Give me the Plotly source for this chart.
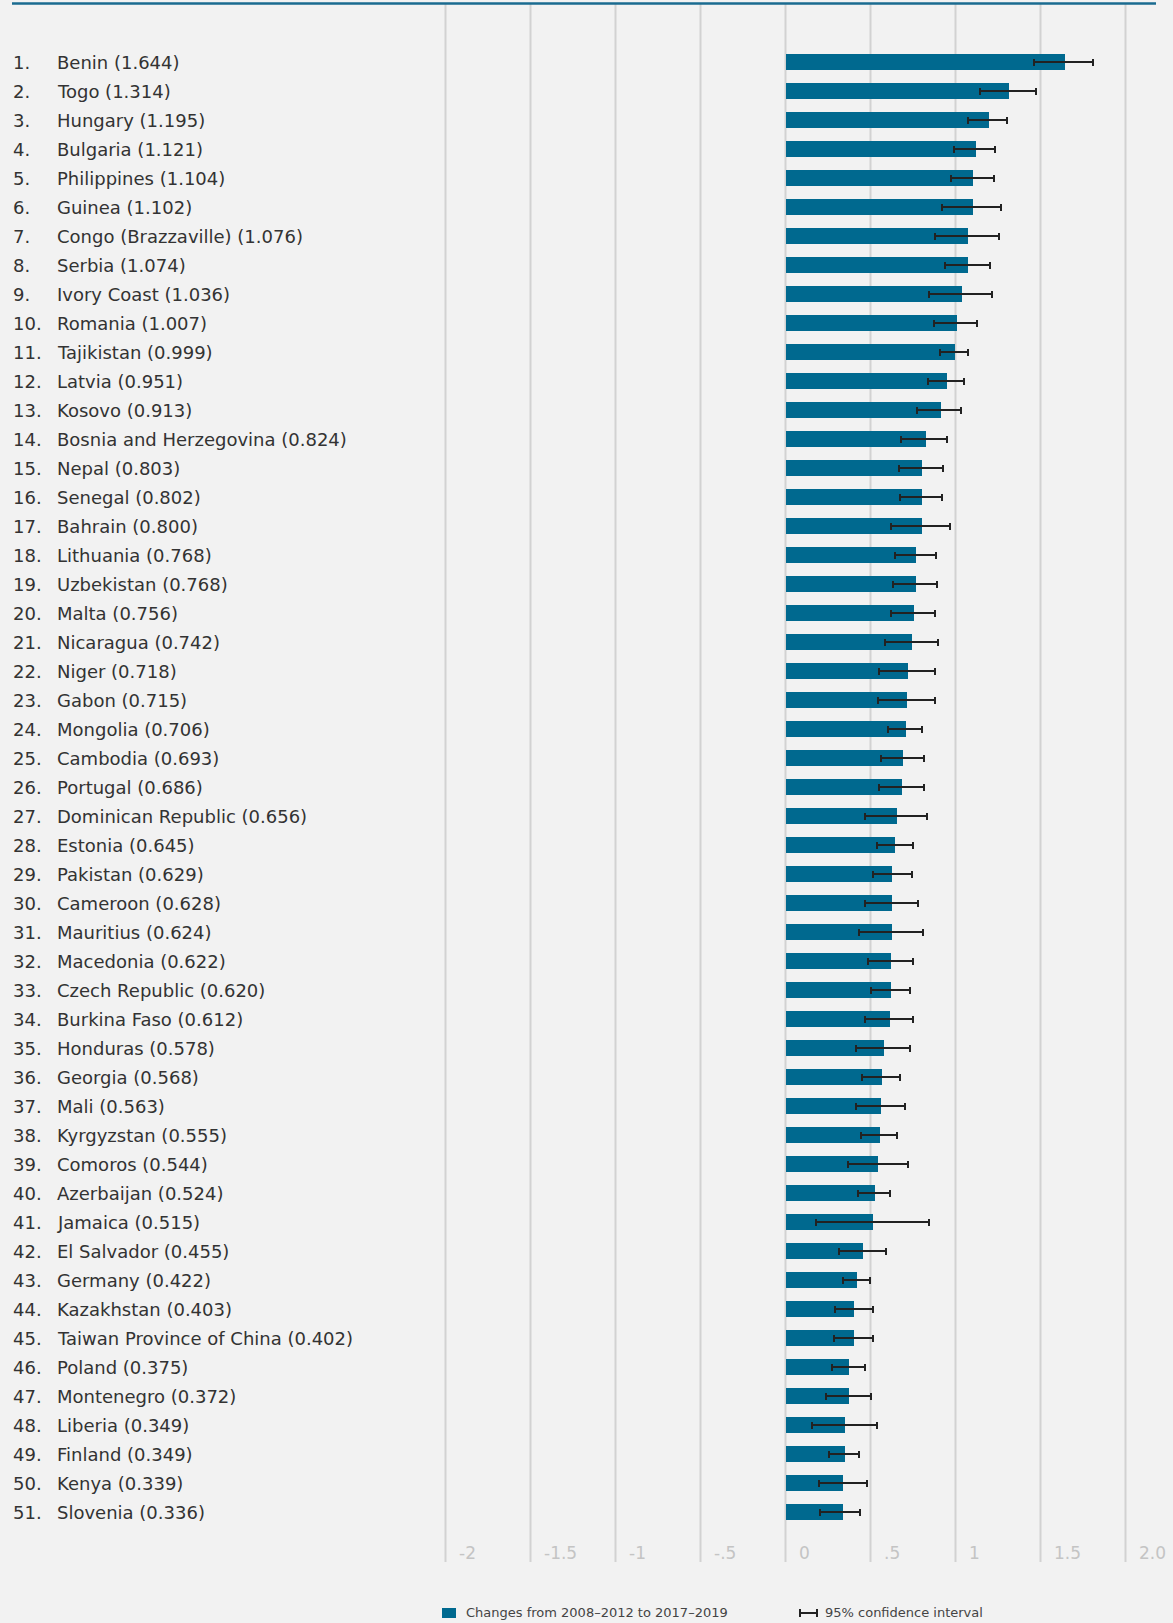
import plotly.graph_objects as go

countries = ["Benin", "Togo", "Hungary", "Bulgaria", "Philippines", "Guinea",
             "Congo (Brazzaville)", "Serbia", "Ivory Coast", "Romania", "Tajikistan",
             "Latvia", "Kosovo", "Bosnia and Herzegovina", "Nepal", "Senegal", "Bahrain",
             "Lithuania", "Uzbekistan", "Malta", "Nicaragua", "Niger", "Gabon", "Mongolia",
             "Cambodia", "Portugal", "Dominican Republic", "Estonia", "Pakistan", "Cameroon",
             "Mauritius", "Macedonia", "Czech Republic", "Burkina Faso", "Honduras",
             "Georgia", "Mali", "Kyrgyzstan", "Comoros", "Azerbaijan", "Jamaica",
             "El Salvador", "Germany", "Kazakhstan", "Taiwan Province of China", "Poland",
             "Montenegro", "Liberia", "Finland", "Kenya", "Slovenia"]

values = [1.644, 1.314, 1.195, 1.121, 1.104, 1.102, 1.076, 1.074, 1.036, 1.007, 0.999,
          0.951, 0.913, 0.824, 0.803, 0.802, 0.800, 0.768, 0.768, 0.756, 0.742, 0.718,
          0.715, 0.706, 0.693, 0.686, 0.656, 0.645, 0.629, 0.628, 0.624, 0.622, 0.620,
          0.612, 0.578, 0.568, 0.563, 0.555, 0.544, 0.524, 0.515, 0.455, 0.422, 0.403,
          0.402, 0.375, 0.372, 0.349, 0.349, 0.339, 0.336]

ci_low = [1.461, 1.143, 1.075, 0.992, 0.974, 0.920, 0.877, 0.938, 0.847, 0.871, 0.907,
          0.840, 0.773, 0.682, 0.670, 0.676, 0.621, 0.646, 0.633, 0.621, 0.585, 0.548,
          0.542, 0.603, 0.560, 0.548, 0.469, 0.536, 0.512, 0.469, 0.432, 0.487, 0.505,
          0.469, 0.414, 0.451, 0.414, 0.445, 0.365, 0.427, 0.180, 0.316, 0.341, 0.292,
          0.286, 0.274, 0.238, 0.158, 0.256, 0.195, 0.201]

ci_high = [1.809, 1.472, 1.304, 1.235, 1.224, 1.267, 1.255, 1.200, 1.212, 1.127, 1.072,
           1.048, 1.035, 0.950, 0.926, 0.920, 0.968, 0.883, 0.889, 0.877, 0.895, 0.877,
           0.877, 0.804, 0.816, 0.816, 0.834, 0.749, 0.743, 0.780, 0.810, 0.749, 0.731,
           0.749, 0.731, 0.676, 0.700, 0.658, 0.719, 0.612, 0.847, 0.590, 0.499, 0.512,
           0.512, 0.469, 0.505, 0.536, 0.432, 0.481, 0.438]

tick_vals = [-2, -1.5, -1, -0.5, 0, 0.5, 1, 1.5, 2]
tick_text = ["-2", "-1.5", "-1", "-.5", "0", ".5", "1", "1.5", "2.0"]

legend_bar = "Changes from 2008\u20132012 to 2017\u20132019"
legend_ci = "95% confidence interval"

W, H = 1173, 1623
ML, MR, MT, MB = 437, 39, 4, 61
PW = W - ML - MR
PH = H - MT - MB
BAR = "#00698f"
FONT = "DejaVu Sans"

def px(xp):
    return (xp - ML) / PW

def py(yp):
    return (H - MB - yp) / PH

idx = list(range(len(countries)))
plus = [h - v for h, v in zip(ci_high, values)]
minus = [v - l for v, l in zip(values, ci_low)]

fig = go.Figure()
fig.add_trace(go.Bar(
    x=values, y=idx, orientation="h", width=0.55,
    marker=dict(color=BAR, line=dict(width=0)),
    error_x=dict(type="data", symmetric=False, array=plus, arrayminus=minus,
                 color="#222222", thickness=2, width=3.5),
    hoverinfo="x+y", showlegend=False,
))

shapes = []
for tv in tick_vals:
    shapes.append(dict(type="line", xref="x", yref="paper", x0=tv, x1=tv, y0=0, y1=1,
                       line=dict(color="#d2d2d2", width=2), layer="below"))
# top rule
shapes.append(dict(type="line", xref="paper", yref="paper", x0=px(12), x1=px(1156),
                   y0=py(3.5), y1=py(3.5), line=dict(color="#1a6b90", width=2.5)))
# legend square
shapes.append(dict(type="rect", xref="paper", yref="paper", x0=px(442), x1=px(456),
                   y0=py(1608), y1=py(1618), fillcolor=BAR, line=dict(width=0)))
# legend CI symbol
shapes.append(dict(type="line", xref="paper", yref="paper", x0=px(800), x1=px(817),
                   y0=py(1613), y1=py(1613), line=dict(color="#222222", width=2)))
for xx in (800, 817):
    shapes.append(dict(type="line", xref="paper", yref="paper", x0=px(xx), x1=px(xx),
                       y0=py(1609), y1=py(1617), line=dict(color="#222222", width=2)))

annotations = []
for i, (c, v) in enumerate(zip(countries, values)):
    annotations.append(dict(text=f"{i+1}.", xref="paper", yref="y", x=px(11), y=i,
                            xanchor="left", yanchor="middle", showarrow=False,
                            font=dict(family=FONT, size=18, color="#333333")))
    annotations.append(dict(text=f"{c} ({v:.3f})", xref="paper", yref="y", x=px(55), y=i,
                            xanchor="left", yanchor="middle", showarrow=False,
                            font=dict(family=FONT, size=18, color="#333333")))
for tv, tt in zip(tick_vals, tick_text):
    annotations.append(dict(text=tt, xref="x", yref="paper", x=tv, y=py(1553),
                            xanchor="left", yanchor="middle", xshift=11, showarrow=False,
                            font=dict(family=FONT, size=17, color="#c4c4c4")))
annotations.append(dict(text=legend_bar, xref="paper", yref="paper", x=px(464), y=py(1613),
                        xanchor="left", yanchor="middle", showarrow=False,
                        font=dict(family=FONT, size=13, color="#444444")))
annotations.append(dict(text=legend_ci, xref="paper", yref="paper", x=px(823), y=py(1613),
                        xanchor="left", yanchor="middle", showarrow=False,
                        font=dict(family=FONT, size=13, color="#444444")))

fig.update_layout(
    width=W, height=H,
    margin=dict(l=ML, r=MR, t=MT, b=MB),
    paper_bgcolor="#f2f2f2", plot_bgcolor="#f2f2f2",
    xaxis=dict(range=[-2.05, 2.05], showgrid=False, zeroline=False, showticklabels=False,
               showline=False, ticks="", fixedrange=True),
    yaxis=dict(range=[50 + 50 / 29, -2], showgrid=False, zeroline=False,
               showticklabels=False, showline=False, ticks="", fixedrange=True),
    shapes=shapes, annotations=annotations,
    bargap=0,
)

fig.write_html("out.html", config={"displayModeBar": False},
               post_script="document.body.style.margin='0';document.body.style.overflow='hidden';")
